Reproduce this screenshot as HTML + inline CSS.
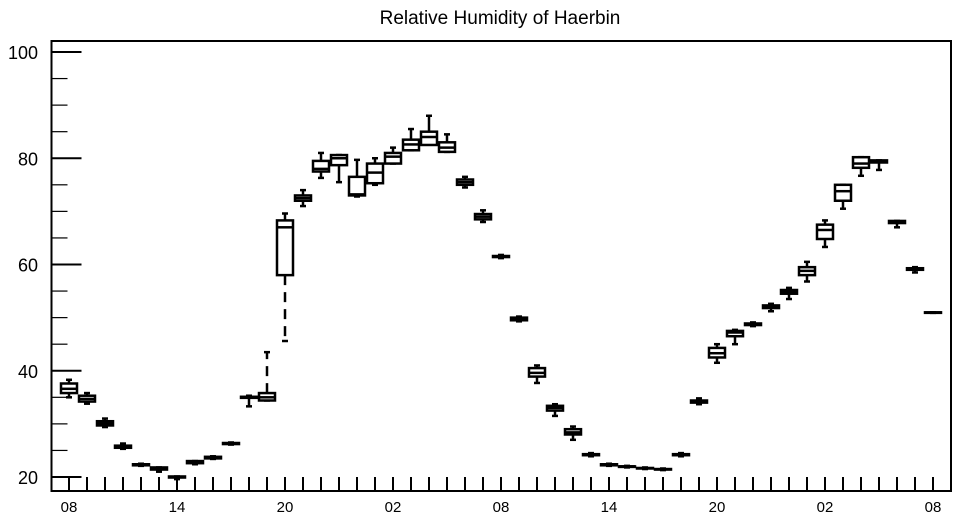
<!DOCTYPE html>
<html><head><meta charset="utf-8"><style>
body{margin:0;background:#fff}
svg{display:block;font-family:"Liberation Sans",Arial,sans-serif}
</style></head><body>
<svg id="chart" width="957" height="520" viewBox="0 0 957 520">
<text x="500" y="24" text-anchor="middle" font-size="19">Relative Humidity of Haerbin</text>
<g id="axes"></g><g id="boxes"></g>
</svg>
<script>
const q1s=[35.8,34.2,29.7,25.5,22.2,21.4,19.9,22.6,23.5,26.2,34.9,34.4,58,72,77.5,78.7,73,75.3,79,81.5,82.5,81.2,75,68.5,61.4,49.5,38.9,32.5,28,24.1,22.2,21.9,21.6,21.4,24.1,34,42.5,46.5,48.6,51.8,54.5,58,64.8,72,78.2,79.2,67.8,59,50.9];
const medians=[36.6,34.7,30.1,25.7,22.3,21.6,20,22.8,23.6,26.3,35,35,67,72.5,78,80,73.2,77.3,80.3,82.6,84,82,75.5,69,61.5,49.8,39.6,33,28.4,24.2,22.3,22,21.65,21.45,24.2,34.2,43.3,47.2,48.7,52,54.8,58.8,66.5,73.8,79,79.4,68,59.1,50.95];
const q3s=[37.6,35.3,30.5,25.9,22.4,21.8,20.1,23,23.8,26.4,35.1,35.8,68.3,73,79.5,80.6,76.5,79,81,83.5,85,83,76,69.5,61.6,50,40.5,33.4,29,24.3,22.4,22,21.7,21.5,24.3,34.4,44.3,47.5,48.9,52.3,55.2,59.5,67.5,75,80.2,79.6,68.2,59.3,51];
const mins=[35,33.8,29.4,25.3,22.1,21,19.6,22.4,23.4,26.1,33.3,34.4,45.6,71,76.3,75.5,72.8,75,79,81.5,82.8,81.2,74.5,68,61.2,49.3,37.7,31.5,27,23.9,22.1,21.8,21.5,21.3,23.9,33.7,41.5,45,48.4,51.2,53.5,56.8,63.3,70.5,76.7,77.8,67,58.5,50.9];
const maxs=[38.3,35.8,31,26.3,22.5,21.8,20.1,23,23.9,26.5,35.3,43.5,69.6,74,81,80.6,79.7,80,82,85.5,88,84.5,76.5,70.2,61.8,50.2,41,33.7,29.5,24.5,22.5,22.1,21.8,21.6,24.5,34.8,45,47.7,49.1,52.6,55.6,60.5,68.3,75,80.2,79.6,68.2,59.5,51];
const xTickLabels=["08","14","20","02","08","14","20","02","08"];
const yTickLabels=[20,40,60,80,100];

const NS="http://www.w3.org/2000/svg";
const X0=51.5,X1=951,Y0=41,Y1=491;
const xs=i=>69+18*i;
const ys=v=>477-(v-20)*5.3125;
function mk(tag,attrs,parent){const e=document.createElementNS(NS,tag);for(const k in attrs)e.setAttribute(k,attrs[k]);parent.appendChild(e);return e;}
const ax=document.getElementById('axes'),bx=document.getElementById('boxes');
const frame=mk('rect',{x:X0,y:Y0,width:X1-X0,height:Y1-Y0,fill:'none',stroke:'#000','stroke-width':2},ax);


for(let v=20;v<=100;v+=5){
  const major=v%20===0;
  const t=mk('line',{x1:X0,x2:X0+(major?30:16),y1:ys(v),y2:ys(v),stroke:'#000','stroke-width':major?2:1.2},ax);
  
  
}
yTickLabels.forEach(v=>{
  const t=mk('text',{x:38,y:ys(v)+7,'text-anchor':'end','font-size':18},ax);
  t.textContent=v;
  
  
});
for(let i=0;i<medians.length;i++){
  const t=mk('line',{x1:xs(i),x2:xs(i),y1:477,y2:Y1,stroke:'#000','stroke-width':2},ax);
  
  
}
xTickLabels.forEach((l,k)=>{
  const t=mk('text',{x:xs(k*6),y:512,'text-anchor':'middle','font-size':15},ax);
  t.textContent=l;
  
  
});
medians.forEach((m,i)=>{
  const g=mk('g',{stroke:'#000','stroke-width':2.5,fill:'none'},bx);
  
  
  const x=xs(i);
  mk('line',{x1:x,x2:x,y1:ys(q3s[i]),y2:ys(maxs[i]),'stroke-dasharray':(maxs[i]-q3s[i]>5)?'10,7':'none'},g);
  mk('line',{x1:x,x2:x,y1:ys(q1s[i]),y2:ys(mins[i]),'stroke-dasharray':(q1s[i]-mins[i]>5)?'10,7':'none'},g);
  mk('line',{x1:x-3,x2:x+3,y1:ys(maxs[i]),y2:ys(maxs[i])},g);
  mk('line',{x1:x-3,x2:x+3,y1:ys(mins[i]),y2:ys(mins[i])},g);
  mk('rect',{x:x-8,y:ys(q3s[i]),width:16,height:Math.max(0.5,ys(q1s[i])-ys(q3s[i])),fill:'#fff'},g);
  mk('line',{x1:x-8,x2:x+8,y1:ys(m),y2:ys(m)},g);
});
</script>
</body></html>
